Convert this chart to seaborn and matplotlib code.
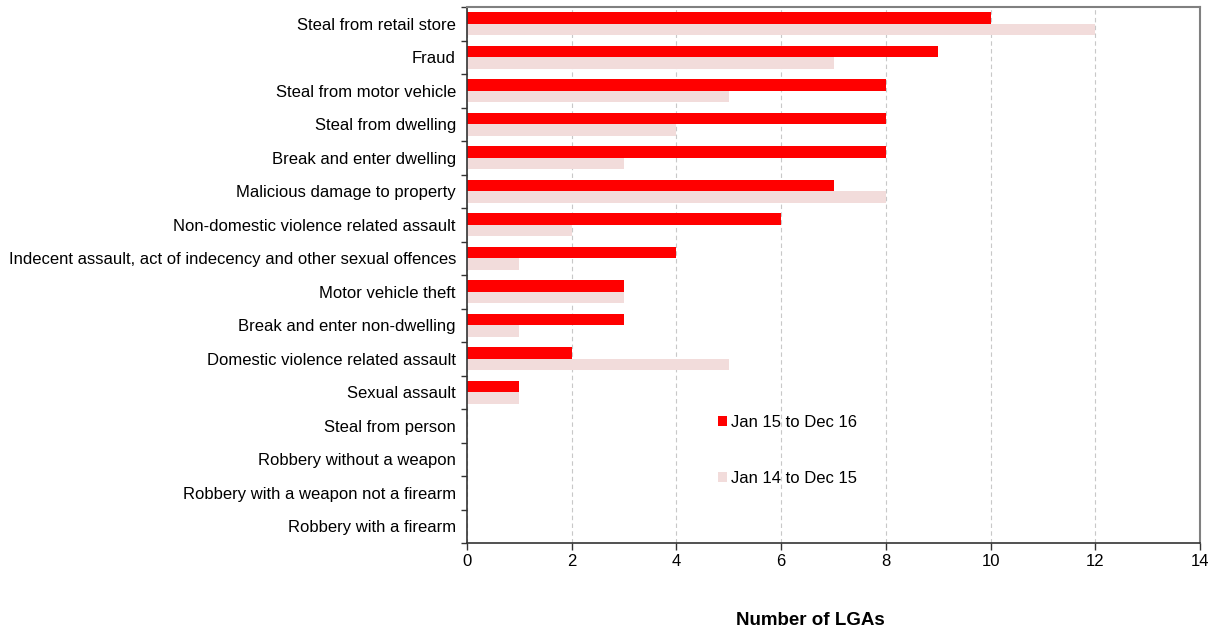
import matplotlib
matplotlib.use("Agg")
import matplotlib.pyplot as plt
import seaborn as sns
import pandas as pd
import numpy as np

# data
offences = [
    "Steal from retail store",
    "Fraud",
    "Steal from motor vehicle",
    "Steal from dwelling",
    "Break and enter dwelling",
    "Malicious damage to property",
    "Non-domestic violence related assault",
    "Indecent assault, act of indecency and other sexual offences",
    "Motor vehicle theft",
    "Break and enter non-dwelling",
    "Domestic violence related assault",
    "Sexual assault",
    "Steal from person",
    "Robbery without a weapon",
    "Robbery with a weapon not a firearm",
    "Robbery with a firearm",
]
period_labels = ["Jan 15 to Dec 16", "Jan 14 to Dec 15"]
lgas_1516 = [10, 9, 8, 8, 8, 7, 6, 4, 3, 3, 2, 1, 0, 0, 0, 0]
lgas_1415 = [12, 7, 5, 4, 3, 8, 2, 1, 3, 1, 5, 1, 0, 0, 0, 0]
x_ticks = [0, 2, 4, 6, 8, 10, 12, 14]

df = pd.concat([
    pd.DataFrame({"offence": offences, "period": period_labels[0], "count": lgas_1516}),
    pd.DataFrame({"offence": offences, "period": period_labels[1], "count": lgas_1415}),
])

sns.set_style("white")
plt.rcParams["font.family"] = ["Liberation Sans", "DejaVu Sans"]
plt.rcParams["text.color"] = "black"
plt.rcParams["axes.labelcolor"] = "black"

fig = plt.figure(figsize=(12.16, 6.35), dpi=100)
ax = fig.add_axes([467 / 1216, 1 - 543 / 635, 733 / 1216, 536 / 635])

sns.barplot(data=df, y="offence", x="count", hue="period", orient="h",
            palette=["#FF0000", "#F2DCDB"], width=0.69, gap=0,
            order=offences, hue_order=period_labels, saturation=1,
            edgecolor="none", linewidth=0, ax=ax)

ax.set_xlim(0, 14)
ax.set_ylim(len(offences) - 0.5, -0.5)
ax.set_xticks(x_ticks)
ax.set_xticklabels([str(t) for t in x_ticks], fontsize=12)
ax.tick_params(axis="y", which="major", length=0, pad=8, labelsize=12, labelcolor="black")
ax.set_yticks(np.arange(-0.5, len(offences)), minor=True)
ax.tick_params(axis="y", which="minor", length=4, width=1, color="#333333", direction="out", left=True)
ax.tick_params(axis="x", length=5, width=1, color="#333333", direction="out", bottom=True, pad=3,
               labelcolor="black")

ax.xaxis.grid(True, linestyle=(0, (4, 3)), color="#C8C8C8", linewidth=0.8)
ax.set_axisbelow(True)

for side in ["left", "bottom"]:
    ax.spines[side].set_color("#333333")
    ax.spines[side].set_linewidth(1.2)
for side in ["top", "right"]:
    ax.spines[side].set_color("#808080")
    ax.spines[side].set_linewidth(1.5)
    ax.spines[side].set_visible(True)

ax.set_ylabel("")
ax.set_xlabel("Number of LGAs", fontsize=13.5, fontweight="bold")
ax.xaxis.set_label_coords((810 - 467) / 733, (543 - 612) / 536)

handles, labels = ax.get_legend_handles_labels()
ax.legend(handles, labels, loc="upper left", frameon=False,
          bbox_to_anchor=(718 / 1216, 1 - 415 / 635), bbox_transform=fig.transFigure,
          handlelength=0.55, handleheight=0.55, handletextpad=0.25,
          labelspacing=2.45, borderpad=0, borderaxespad=0, fontsize=12)

fig.savefig("out.png", dpi=100)
